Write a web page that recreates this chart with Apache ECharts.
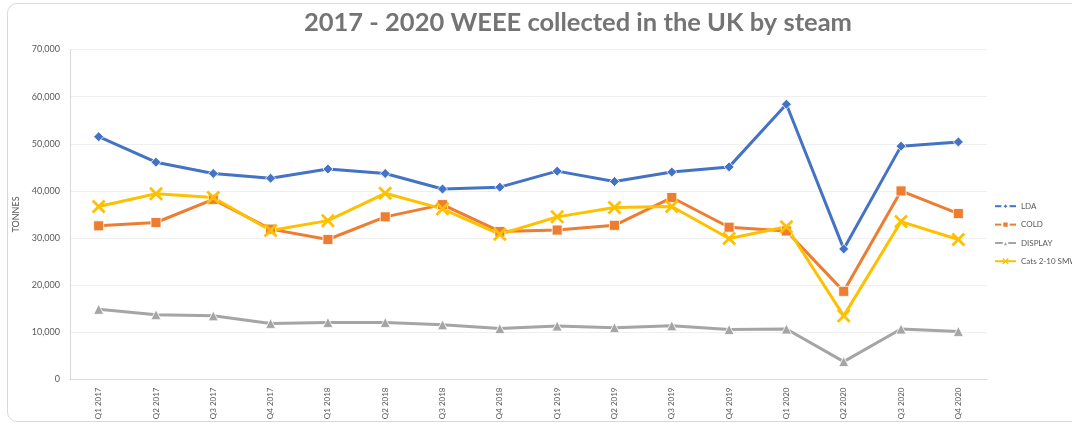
<!DOCTYPE html>
<html>
<head>
<meta charset="utf-8">
<script src="https://cdn.jsdelivr.net/npm/echarts@6/dist/echarts.min.js"></script>
<style>
html,body{margin:0;padding:0;background:#fff;}
#chart{width:1072px;height:423px;position:absolute;left:0;top:0;}
#frame{position:absolute;left:7px;top:3px;width:1085px;height:417px;border:1px solid #d9d9d9;border-radius:10px;pointer-events:none;}
</style>
</head>
<body>
<div id="chart"></div>
<div id="frame"></div>
<script>
const categories = ["Q1 2017","Q2 2017","Q3 2017","Q4 2017","Q1 2018","Q2 2018","Q3 2018","Q4 2018","Q1 2019","Q2 2019","Q3 2019","Q4 2019","Q1 2020","Q2 2020","Q3 2020","Q4 2020"];
const lda = [51500,46100,43700,42700,44650,43700,40400,40800,44200,42000,44000,45100,58400,27700,49500,50400];
const cold = [32600,33300,38200,31900,29700,34500,37100,31400,31700,32700,38600,32300,31500,18700,40000,35200];
const display = [14900,13750,13500,11900,12100,12100,11600,10800,11350,11000,11400,10600,10700,3800,10700,10200];
const cats = [36700,39400,38600,31600,33700,39500,36200,30800,34500,36500,36700,29900,32400,13500,33500,29700];
const seriesNames = ["LDA","COLD","DISPLAY","Cats 2-10 SMW"];
const titleText = "2017 - 2020 WEEE collected in the UK by steam";

const xPath = 'path://M0,1.4L1.4,0L5,3.6L8.6,0L10,1.4L6.4,5L10,8.6L8.6,10L5,6.4L1.4,10L0,8.6L3.6,5Z';
const chart = echarts.init(document.getElementById('chart'));
const font = 'Lato, "Open Sans", sans-serif';
function mk(name, data, color, symbol, size, border) {
  return {
    name, type: 'line', data, symbol, symbolSize: size, showSymbol: true,
    lineStyle: {color, width: 3},
    itemStyle: {color, borderColor: border ? '#fff' : color, borderWidth: border ? 0.8 : 0},
    emphasis: {disabled: true}, animation: false
  };
}
chart.setOption({
  animation: false,
  textStyle: {fontFamily: font},
  title: {text: titleText, left: 299, top: 5,
    textStyle: {fontFamily: font, fontSize: 25.5, fontWeight: 'bold', color: '#747474'}},
  legend: {orient: 'vertical', left: 989, top: 197, itemGap: 10, itemWidth: 21, itemHeight: 8,
    textStyle: {fontSize: 8, color: '#595959', fontFamily: font},
    data: seriesNames},
  grid: {left: 70, right: 85, top: 49.5, bottom: 43.5, containLabel: false, outerBoundsMode: 'none'},
  xAxis: {type: 'category', data: categories, boundaryGap: true,
    axisLine: {lineStyle: {color: '#d9d9d9'}}, axisTick: {show: false},
    axisLabel: {rotate: 90, fontSize: 8, color: '#595959', margin: 8}},
  yAxis: {type: 'value', min: 0, max: 70000, interval: 10000,
    name: 'TONNES', nameLocation: 'middle', nameRotate: 90, nameGap: 42,
    nameTextStyle: {fontSize: 9, color: '#595959'},
    axisLine: {show: true, lineStyle: {color: '#d9d9d9'}}, axisTick: {show: false},
    axisLabel: {fontSize: 9, color: '#595959', margin: 10,
      formatter: v => v.toLocaleString('en-US')},
    splitLine: {lineStyle: {color: '#efefef'}}},
  series: [
    mk(seriesNames[0], lda, '#4472C4', 'diamond', 10, true),
    mk(seriesNames[1], cold, '#ED7D31', 'rect', 10, true),
    mk(seriesNames[2], display, '#A5A5A5', 'triangle', 10, true),
    mk(seriesNames[3], cats, '#FFC000', xPath, 14, false)
  ]
});
</script>
</body>
</html>
